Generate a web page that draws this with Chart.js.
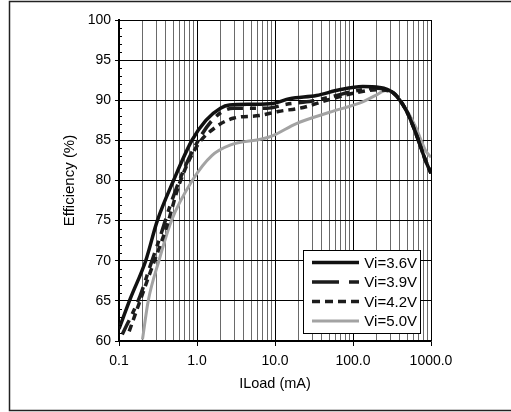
<!DOCTYPE html>
<html>
<head>
<meta charset="utf-8">
<script src="https://cdn.jsdelivr.net/npm/chart.js@4.4.1/dist/chart.umd.min.js"></script>
<style>
    html, body { margin: 0; padding: 0; background: #fff; }
    canvas { display: block; }
</style>
</head>
<body>
<canvas id="effChart" width="511" height="412"></canvas>
<script>
// -- DATA --
const load36 = [0.1, 0.14, 0.22, 0.31, 0.5, 0.86, 1.3, 2.0, 2.6, 5, 9.4, 15.4, 34, 67, 133, 218, 320, 480, 633, 850, 1000];
const eff36  = [61.5, 65.3, 70, 75, 80, 85, 87.5, 89.0, 89.4, 89.5, 89.6, 90.2, 90.6, 91.3, 91.7, 91.6, 91.0, 88.75, 86.0, 82.5, 80.9];

const load39 = [0.11, 0.186, 0.25, 0.34, 0.45, 0.6, 0.9, 1.6, 2.9, 7.8, 14, 30, 56, 100, 200, 320, 480, 633, 850, 1000];
const eff39  = [60.8, 65.6, 69.3, 73.1, 76.8, 80.1, 83.9, 87.6, 89.0, 89.0, 89.5, 89.9, 90.5, 91.1, 91.5, 91.0, 88.75, 86.0, 82.5, 80.9];

const load42 = [0.135, 0.25, 0.41, 0.6, 1.0, 1.8, 2.9, 6.3, 11, 23, 50, 105, 200, 320, 480, 633, 850, 1000];
const eff42  = [61.2, 68.5, 74.3, 79.7, 84.3, 86.75, 87.75, 88.1, 88.6, 89.1, 90.1, 90.9, 91.3, 91.0, 88.75, 86.0, 82.5, 80.9];

const load50 = [0.2, 0.237, 0.325, 0.47, 0.87, 1.55, 2.65, 7, 9.4, 18.8, 50, 133, 195, 264, 323, 430, 633, 850, 1000];
const eff50  = [60.2, 65, 70, 75, 80, 83.1, 84.4, 85.2, 85.6, 87.1, 88.5, 89.8, 90.6, 91.2, 91.0, 89.6, 86.7, 83.75, 82.9];

const seriesLabels = ['Vi=3.6V', 'Vi=3.9V', 'Vi=4.2V', 'Vi=5.0V'];
const decades = [0.1, 1, 10, 100, 1000];
const decadeLabels = ['0.1', '1.0', '10.0', '100.0', '1000.0'];

const FONT = '"Liberation Sans", Arial, sans-serif';

function pts(xs, ys) {
    return xs.map((x, i) => ({ x: x, y: ys[i] }));
}

function isDecade(v) {
    const l = Math.log10(v);
    return Math.abs(l - Math.round(l)) < 1e-9;
}

// minor y ticks (1 %) and the outer frame
const decorPlugin = {
    id: 'decor',
    afterDraw(chart) {
        const ctx = chart.ctx;
        const y = chart.scales.y;
        const area = chart.chartArea;
        ctx.save();
        ctx.strokeStyle = '#000';
        ctx.lineWidth = 1;
        ctx.beginPath();
        for (let v = 61; v < 100; v++) {
            if (v % 5 === 0) continue;
            const py = Math.round(y.getPixelForValue(v)) + 0.5;
            ctx.moveTo(area.left, py);
            ctx.lineTo(area.left + 3, py);
        }
        ctx.stroke();

        // frame round the figure
        ctx.strokeStyle = '#222';
        ctx.lineWidth = 1.5;
        ctx.beginPath();
        ctx.moveTo(511, 1.5);
        ctx.lineTo(9.5, 1.5);
        ctx.lineTo(9.5, 410.5);
        ctx.lineTo(511, 410.5);
        ctx.stroke();
        ctx.restore();
    }
};

// boxed legend inside the plot, bottom right
const legendBoxPlugin = {
    id: 'legendBox',
    afterDraw(chart) {
        const ctx = chart.ctx;
        const box = { x: 303.5, y: 250.5, w: 117, h: 83 };
        const rows = [262.5, 282, 301.5, 321];
        ctx.save();
        ctx.fillStyle = '#fff';
        ctx.fillRect(box.x, box.y, box.w, box.h);
        ctx.strokeStyle = '#000';
        ctx.lineWidth = 1;
        ctx.strokeRect(box.x, box.y, box.w, box.h);

        chart.data.datasets.forEach((ds, i) => {
            const yy = rows[i];
            ctx.beginPath();
            ctx.strokeStyle = ds.borderColor;
            ctx.lineWidth = ds.borderWidth;
            ctx.setLineDash(ds.legendDash || []);
            ctx.moveTo(312, yy);
            ctx.lineTo(359, yy);
            ctx.stroke();
            ctx.setLineDash([]);

            ctx.fillStyle = '#000';
            ctx.font = '15px ' + FONT;
            ctx.textAlign = 'right';
            ctx.textBaseline = 'middle';
            ctx.fillText(ds.label, 417, yy + 1);
        });
        ctx.restore();
    }
};

new Chart(document.getElementById('effChart'), {
    type: 'line',
    data: {
        datasets: [
            { label: seriesLabels[0], data: pts(load36, eff36), borderColor: '#111', borderWidth: 3.5 },
            { label: seriesLabels[1], data: pts(load39, eff39), borderColor: '#1c1c1c', borderWidth: 3.5,
              borderDash: [16, 7, 6, 7], legendDash: [27, 10, 10, 10] },
            { label: seriesLabels[2], data: pts(load42, eff42), borderColor: '#1c1c1c', borderWidth: 3.5,
              borderDash: [7, 5], legendDash: [8, 5] },
            { label: seriesLabels[3], data: pts(load50, eff50), borderColor: '#a3a3a3', borderWidth: 3 }
        ]
    },
    options: {
        responsive: false,
        animation: false,
        layout: { padding: { left: 10, right: 80, top: 20, bottom: 0 } },
        elements: {
            point: { radius: 0 },
            line: { cubicInterpolationMode: 'monotone', fill: false }
        },
        plugins: {
            legend: { display: false },
            tooltip: { enabled: false }
        },
        scales: {
            x: {
                type: 'logarithmic',
                min: 0.1,
                max: 1000,
                afterBuildTicks: (scale) => {
                    const ticks = [];
                    decades.forEach((d, i) => {
                        const n = i < decades.length - 1 ? 9 : 1;
                        for (let k = 1; k <= n; k++) {
                            const v = Math.round(d * k * 1000) / 1000;
                            ticks.push({ value: v, major: k === 1 });
                        }
                    });
                    scale.ticks = ticks;
                },
                afterFit: (scale) => { scale.height = 71; },
                ticks: {
                    autoSkip: false,
                    maxRotation: 0,
                    padding: 7,
                    color: '#000',
                    font: { family: FONT, size: 14 },
                    callback: (value) => {
                        const idx = decades.findIndex(d => Math.abs(d - value) < 1e-9);
                        return idx >= 0 ? decadeLabels[idx] : '';
                    }
                },
                grid: {
                    lineWidth: 1,
                    tickLength: 5,
                    color: (c) => (c.tick && isDecade(c.tick.value)) ? '#000' : '#6a6a6a',
                    tickColor: (c) => (c.tick && isDecade(c.tick.value)) ? '#000' : 'rgba(0,0,0,0)'
                },
                border: { color: '#000', width: 1.5 },
                title: {
                    display: true,
                    text: 'ILoad (mA)',
                    color: '#000',
                    font: { family: FONT, size: 14.5 },
                    padding: { top: 0, bottom: 19 }
                }
            },
            y: {
                min: 60,
                max: 100,
                afterFit: (scale) => { scale.width = 109; },
                ticks: {
                    stepSize: 5,
                    padding: 4,
                    color: '#000',
                    font: { family: FONT, size: 14 }
                },
                grid: { color: '#000', lineWidth: 1, tickLength: 4 },
                border: { color: '#000', width: 2 },
                title: {
                    display: true,
                    text: 'Efficiency (%)',
                    color: '#000',
                    font: { family: FONT, size: 15 },
                    padding: { top: 51, bottom: 0 }
                }
            }
        }
    },
    plugins: [decorPlugin, legendBoxPlugin]
});
</script>
</body>
</html>
